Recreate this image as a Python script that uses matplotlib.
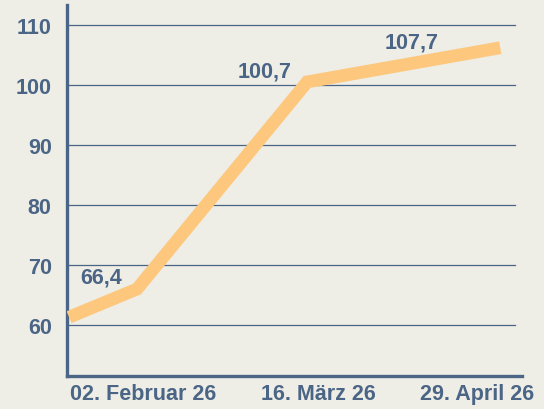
import matplotlib
matplotlib.use('Agg')
import matplotlib.pyplot as plt

# x in weeks from the first point
x_vals = [0.0, 1.0, 3.5, 6.34]
y_vals = [61.3, 66.0, 100.5, 106.2]

labels = ["", "66,4", "100,7", "107,7"]
label_offsets = [(0, 0), (-36, 12), (-42, 11), (-89, 6)]

tick_pos = [1.09, 3.66, 6.0]
tick_labels = ["02. Februar 26", "16. März 26", "29. April 26"]
y_ticks = [60, 70, 80, 90, 100, 110]

bg = '#eeede6'
text_color = '#4a6585'
line_color = '#fdc87d'

plt.rcParams["font.family"] = ["Liberation Sans", "DejaVu Sans"]

fig = plt.figure(figsize=(5.44, 4.10), dpi=100, facecolor=bg)
ax = fig.add_axes([0.1232, 0.0805, 0.8364, 0.905])
ax.set_facecolor(bg)

for y in y_ticks:
    ax.axhline(y, xmin=0, xmax=0.985, color=text_color, linewidth=0.9, zorder=1)

ax.plot(x_vals, y_vals, color=line_color, linewidth=9.2, solid_capstyle='butt',
        solid_joinstyle='miter', zorder=3)

for xv, yv, lab, off in zip(x_vals, y_vals, labels, label_offsets):
    if lab:
        ax.annotate(lab, (xv, yv), xytext=off, textcoords='offset pixels',
                    ha='center', va='center', fontsize=15.5, fontweight='bold',
                    color=text_color, zorder=4)

ax.set_xlim(-0.03, 6.66)
ax.set_ylim(51.5, 113.33)
ax.set_yticks(y_ticks)
ax.set_yticklabels([str(v) for v in y_ticks])
ax.set_xticks(tick_pos)
ax.set_xticklabels(tick_labels)
ax.tick_params(length=0, labelsize=15.5, labelcolor=text_color)
ax.tick_params(axis='y', pad=11)
ax.tick_params(axis='x', pad=5)
for lab in ax.get_xticklabels() + ax.get_yticklabels():
    lab.set_fontweight('bold')

for side in ['top', 'right']:
    ax.spines[side].set_visible(False)
for side in ['left', 'bottom']:
    ax.spines[side].set_color(text_color)
    ax.spines[side].set_linewidth(2.4)

plt.savefig('out.png', dpi=100, facecolor=bg)
plt.close()
